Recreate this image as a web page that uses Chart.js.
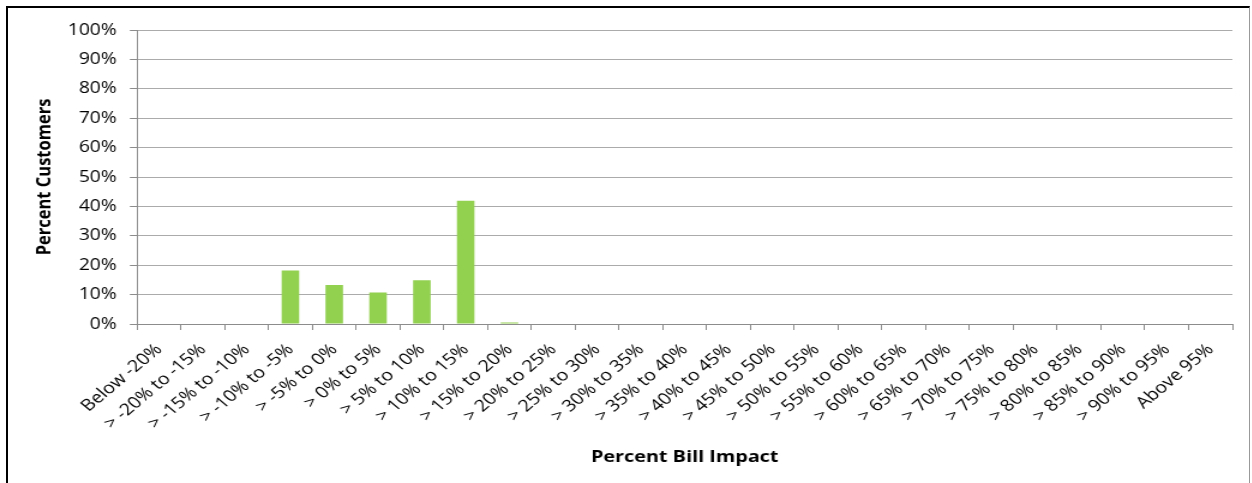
<!DOCTYPE html>
<html>
<head>
<meta charset="utf-8">
<script src="https://cdn.jsdelivr.net/npm/chart.js@4/dist/chart.umd.min.js"></script>
<style>
  html, body { margin: 0; padding: 0; background: #fff; overflow: hidden; }
  #stage { position: absolute; left: 0; top: 0; width: 1252px; height: 483px; }
  #wrap { position: absolute; left: 0; top: 0; transform: scaleX(1.2); transform-origin: 0 0; }
  #frame { position: absolute; left: 6px; top: 6px; width: 1244px; height: 490px;
           border-left: 2px solid #000; border-top: 2px solid #000; border-right: 1px solid #999;
           box-sizing: border-box; pointer-events: none; }
</style>
</head>
<body>
<div id="stage">
  <div id="wrap"><canvas id="c" width="1043" height="483"></canvas></div>
  <div id="frame"></div>
</div>
<script>
// Bill impact bins
const categories = [
  "Below -20%", "> -20% to -15%", "> -15% to -10%", "> -10% to -5%", "> -5% to 0%",
  "> 0% to 5%", "> 5% to 10%", "> 10% to 15%", "> 15% to 20%", "> 20% to 25%",
  "> 25% to 30%", "> 30% to 35%", "> 35% to 40%", "> 40% to 45%", "> 45% to 50%",
  "> 50% to 55%", "> 55% to 60%", "> 60% to 65%", "> 65% to 70%", "> 70% to 75%",
  "> 75% to 80%", "> 80% to 85%", "> 85% to 90%", "> 90% to 95%", "Above 95%"
];
// Share of customers in each bin (%)
const percentCustomers = [
  0, 0, 0, 18.2, 13.3,
  10.7, 14.9, 41.9, 0.5, 0,
  0, 0, 0, 0, 0,
  0, 0, 0, 0, 0,
  0, 0, 0, 0, 0
];
const yTicks = [0, 10, 20, 30, 40, 50, 60, 70, 80, 90, 100];

const FONT = "'Open Sans', 'DejaVu Sans', sans-serif";

new Chart(document.getElementById('c'), {
  type: 'bar',
  data: {
    labels: categories,
    datasets: [{
      data: percentCustomers,
      backgroundColor: '#92d050',
      borderWidth: 0,
      barPercentage: 0.4,
      categoryPercentage: 1.0
    }]
  },
  options: {
    responsive: false,
    animation: false,
    devicePixelRatio: 1,
    layout: { padding: { left: 0, right: 16, top: 30, bottom: 0 } },
    plugins: { legend: { display: false }, tooltip: { enabled: false } },
    scales: {
      x: {
        offset: true,
        grid: { offset: true, drawOnChartArea: false, drawTicks: true, tickLength: 6, color: '#8c8c8c' },
        border: { color: '#8c8c8c', width: 1 },
        ticks: {
          autoSkip: false, maxRotation: 45, minRotation: 45, padding: 10,
          color: '#000', font: { family: FONT, size: 16.3 }
        },
        title: {
          display: true, text: 'Percent Bill Impact', color: '#000',
          font: { family: FONT, size: 16.5, weight: 'bold' },
          padding: { top: 0, bottom: 16 }
        },
        afterFit: (s) => { s.height = 159; }
      },
      y: {
        min: 0, max: 100,
        afterBuildTicks: (s) => { s.ticks = yTicks.map(v => ({ value: v })); },
        grid: { color: '#ababab', lineWidth: 1, tickLength: 6, tickColor: '#8c8c8c' },
        border: { color: '#8c8c8c', width: 1 },
        ticks: {
          padding: 11, color: '#000', font: { family: FONT, size: 16 },
          callback: (v) => v + '%'
        },
        title: {
          display: true, text: 'Percent Customers', color: '#000',
          font: { family: FONT, size: 16.5, weight: 'bold' },
          padding: { top: 27.6, bottom: 0 }
        },
        afterFit: (s) => { s.width = 114.2; }
      }
    }
  }
});
</script>
</body>
</html>
